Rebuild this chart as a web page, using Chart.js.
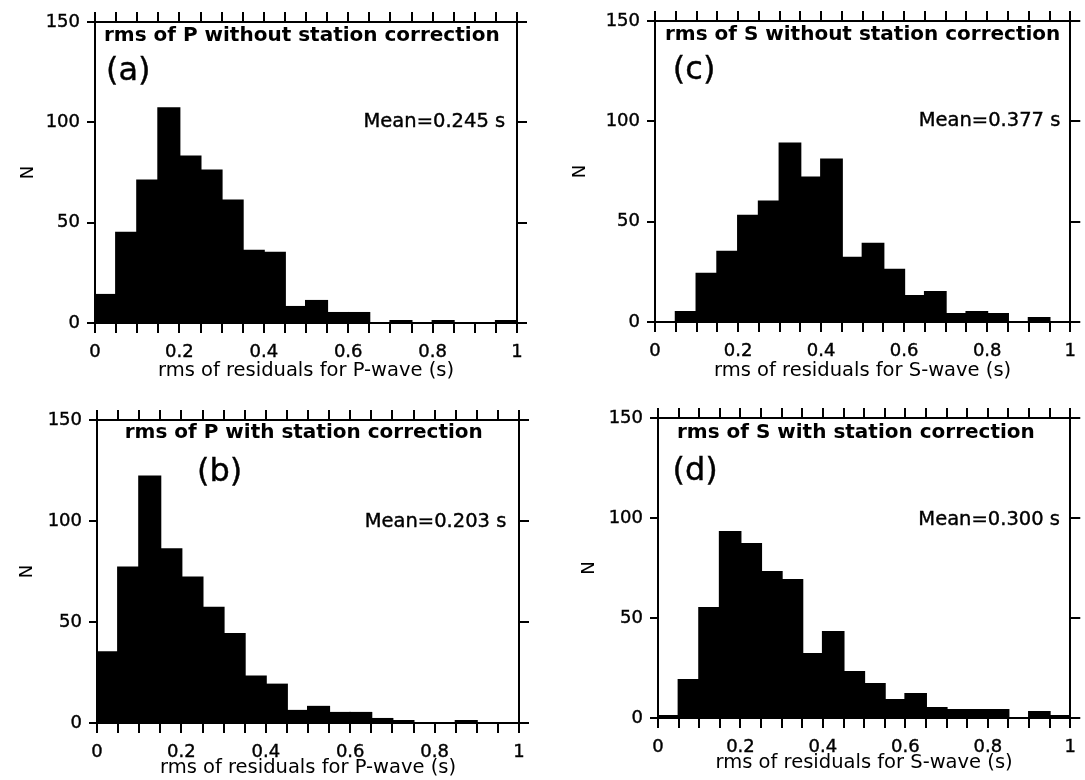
<!DOCTYPE html>
<html>
<head>
<meta charset="utf-8">
<script src="https://cdn.jsdelivr.net/npm/chart.js@4.4.0/dist/chart.umd.min.js"></script>
<style>
  body { margin: 0; background: #fff; }
  #wrap { position: relative; width: 1085px; height: 780px; overflow: hidden; }
  #wrap canvas { position: absolute; }
</style>
</head>
<body>
<div id="wrap">
  <canvas id="chart-a" width="542" height="390" style="left:0;top:0"></canvas>
  <canvas id="chart-c" width="543" height="390" style="left:542px;top:0"></canvas>
  <canvas id="chart-b" width="542" height="390" style="left:0;top:390px"></canvas>
  <canvas id="chart-d" width="543" height="390" style="left:542px;top:390px"></canvas>
</div>
<script>
// histogram bins: left edge of each 0.05 s bin
const binEdges = [0, 0.05, 0.1, 0.15, 0.2, 0.25, 0.3, 0.35, 0.4, 0.45,
                  0.5, 0.55, 0.6, 0.65, 0.7, 0.75, 0.8, 0.85, 0.9, 0.95];
const binWidth = 0.05;

// event counts per bin
const countsPNoCorr = [14, 45, 71, 107, 83, 76, 61, 36, 35, 8, 11, 5, 5, 0, 1, 0, 1, 0, 0, 1];
const countsPCorr   = [35, 77, 122, 86, 72, 57, 44, 23, 19, 6, 8, 5, 5, 2, 1, 0, 0, 1, 0, 0];
const countsSNoCorr = [0, 5, 24, 35, 53, 60, 89, 72, 81, 32, 39, 26, 13, 15, 4, 5, 4, 0, 2, 0];
const countsSCorr   = [1, 19, 55, 93, 87, 73, 69, 32, 43, 23, 17, 9, 12, 5, 4, 4, 4, 0, 3, 1];

const xTickLabels = ['0', '0.2', '0.4', '0.6', '0.8', '1'];
const yTicks = [0, 50, 100, 150];

const FONT = '"DejaVu Sans", sans-serif';
const INK = 0.4; // extra stroke so thin glyphs print a little heavier

// draws text inside the plot at data coordinates
const panelText = {
  id: 'panelText',
  afterDraw(chart, args, opts) {
    const ctx = chart.ctx;
    const xs = chart.scales.x, ys = chart.scales.y;
    ctx.save();
    ctx.fillStyle = '#000';
    ctx.strokeStyle = '#000';
    ctx.lineWidth = INK;
    ctx.textBaseline = 'middle';
    (opts.items || []).forEach(it => {
      const px = xs.getPixelForValue(it.x), py = ys.getPixelForValue(it.y);
      ctx.font = it.font;
      ctx.textAlign = it.align || 'left';
      ctx.fillText(it.text, px, py);
      if (!it.bold) ctx.strokeText(it.text, px, py);
    });
    ctx.restore();
  }
};

function makeHist(id, counts, cfg) {
  const axisGrid = {
    drawOnChartArea: false,
    drawTicks: true,
    tickLength: 10,
    color: '#000',
    lineWidth: 2,
    offset: false
  };
  const border = { display: true, color: '#000', width: 2 };

  new Chart(document.getElementById(id), {
    type: 'bar',
    data: {
      datasets: [{
        data: binEdges.map((e, i) => ({ x: e + binWidth / 2, y: counts[i] })),
        backgroundColor: '#000',
        borderWidth: 0,
        inflateAmount: 1,
        barPercentage: 1,
        categoryPercentage: 1
      }]
    },
    options: {
      responsive: false,
      animation: false,
      devicePixelRatio: 1,
      layout: { padding: 0 },
      plugins: {
        legend: { display: false },
        tooltip: { enabled: false },
        panelText: { items: cfg.items }
      },
      scales: {
        x: {
          type: 'linear',
          position: 'bottom',
          min: 0, max: 1,
          offset: false,
          grid: axisGrid,
          border: border,
          ticks: {
            stepSize: 0.05,
            autoSkip: false,
            maxRotation: 0,
            padding: 9,
            color: '#000',
            textStrokeColor: '#000',
            textStrokeWidth: INK,
            font: { family: FONT, size: 18 },
            callback: v => {
              const s = String(Math.round(v * 10) / 10);
              return Math.abs(v * 5 - Math.round(v * 5)) < 1e-6 && xTickLabels.includes(s) ? s : '';
            }
          },
          title: {
            display: true,
            text: cfg.xTitle,
            color: '#000',
            font: { family: FONT, size: 19.5 },
            padding: { top: cfg.titlePad, bottom: cfg.titlePad }
          },
          afterFit: s => { s.height = cfg.bottom; }
        },
        xTop: {
          type: 'linear',
          position: 'top',
          min: 0, max: 1,
          offset: false,
          grid: axisGrid,
          border: border,
          ticks: { stepSize: 0.05, autoSkip: false, maxRotation: 0, callback: () => '' },
          afterFit: s => { s.height = cfg.top; }
        },
        y: {
          min: 0, max: 150,
          grid: Object.assign({}, axisGrid, { tickLength: 8 }),
          border: border,
          afterBuildTicks: s => { s.ticks = yTicks.map(v => ({ value: v })); },
          ticks: {
            padding: 7,
            color: '#000',
            textStrokeColor: '#000',
            textStrokeWidth: INK,
            font: { family: FONT, size: 18 }
          },
          title: {
            display: true,
            text: 'N',
            color: '#000',
            font: { family: FONT, size: 18 },
            padding: { top: cfg.nPad, bottom: 0 }
          },
          afterFit: s => { s.width = cfg.left; }
        },
        yRight: {
          position: 'right',
          min: 0, max: 150,
          grid: Object.assign({}, axisGrid, { tickLength: 10 }),
          border: border,
          afterBuildTicks: s => { s.ticks = yTicks.map(v => ({ value: v })); },
          ticks: { callback: () => '' },
          afterFit: s => { s.width = cfg.right; }
        }
      }
    },
    plugins: [panelText]
  });
}

const titleFont = 'bold 20px ' + FONT;
const tagFont = '32px ' + FONT;
const meanFont = '19.5px ' + FONT;

makeHist('chart-a', countsPNoCorr, {
  left: 95, right: 25, top: 22, bottom: 67, nPad: 18, titlePad: 7,
  xTitle: 'rms of residuals for P-wave (s)',
  items: [
    { text: 'rms of P without station correction', x: 0.49, y: 143, font: titleFont, align: 'center', bold: true },
    { text: '(a)', x: 0.026, y: 125, font: tagFont },
    { text: 'Mean=0.245 s', x: 0.972, y: 100, font: meanFont, align: 'right' }
  ]
});

makeHist('chart-c', countsSNoCorr, {
  left: 113, right: 8, top: 21, bottom: 68, nPad: 28, titlePad: 7,
  xTitle: 'rms of residuals for S-wave (s)',
  items: [
    { text: 'rms of S without station correction', x: 0.5, y: 143, font: titleFont, align: 'center', bold: true },
    { text: '(c)', x: 0.043, y: 125, font: tagFont },
    { text: 'Mean=0.377 s', x: 0.976, y: 100, font: meanFont, align: 'right' }
  ]
});

makeHist('chart-b', countsPCorr, {
  left: 97, right: 23, top: 30, bottom: 57, nPad: 17, titlePad: 0,
  xTitle: 'rms of residuals for P-wave (s)',
  items: [
    { text: 'rms of P with station correction', x: 0.49, y: 143.5, font: titleFont, align: 'center', bold: true },
    { text: '(b)', x: 0.237, y: 124, font: tagFont },
    { text: 'Mean=0.203 s', x: 0.97, y: 99.5, font: meanFont, align: 'right' }
  ]
});

makeHist('chart-d', countsSCorr, {
  left: 116, right: 2, top: 28, bottom: 62, nPad: 37, titlePad: 5,
  xTitle: 'rms of residuals for S-wave (s)',
  items: [
    { text: 'rms of S with station correction', x: 0.48, y: 142.5, font: titleFont, align: 'center', bold: true },
    { text: '(d)', x: 0.035, y: 123, font: tagFont },
    { text: 'Mean=0.300 s', x: 0.975, y: 99, font: meanFont, align: 'right' }
  ]
});
</script>
</body>
</html>
